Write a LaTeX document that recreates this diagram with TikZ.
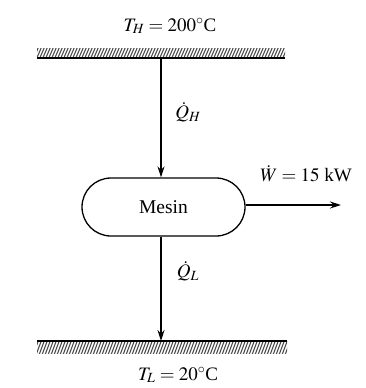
\documentclass[tikz,border=0pt]{standalone}
\usepackage{mathptmx}
\usepackage{fontspec}
\setmainfont{Liberation Serif}
\usetikzlibrary{arrows.meta}
\tikzset{
  wire/.style={line width=1.3pt, -{Stealth[length=11pt,width=7pt]}},
  lbl/.style={font=\fontsize{19}{22}\selectfont, inner sep=0pt},
  hatch/.style={line width=1.1pt, black!70},
  engine/.style={draw, line width=1.3pt, rounded corners=29pt, minimum width=163pt, minimum height=58pt, font=\fontsize{19.5}{22}\selectfont},
}
\begin{document}
\begin{tikzpicture}[x=1pt,y=-1pt]
\useasboundingbox (0,0) rectangle (366,388);
% top reservoir
\begin{scope}
\clip (37,48) rectangle (285,58);
\foreach \i in {0,3,...,270} {\draw[hatch] (30+\i,60) -- (36+\i,46);}
\end{scope}
\draw[line width=1.3pt] (37,58) -- (285,58);
% bottom reservoir
\begin{scope}
\clip (37,341) rectangle (287,353);
\foreach \i in {0,3,...,270} {\draw[hatch] (30+\i,355) -- (36+\i,339);}
\end{scope}
\draw[line width=1.3pt] (37,341) -- (287,341);
\coordinate (hot) at (161,58);
\coordinate (cold) at (161,341);
\coordinate (wout) at (341,205);
\node[engine] (eng) at (163.5,207) {Mesin};
\draw[wire] (hot) -- (hot |- eng.north);
\draw[wire] (cold |- eng.south) -- (cold);
\draw[wire] (eng.east |- wout) -- (wout);
\node[lbl] (th) at (170,26) {$T_H = 200^\circ$C};
\node[lbl] (tl) at (178,375) {$T_L = 20^\circ$C};
\node[lbl] (qh) at (188,112) {$\dot{Q}_H$};
\node[lbl] (ql) at (188,271) {$\dot{Q}_L$};
\node[lbl] (w) at (306,174) {$\dot{W} = 15$ kW};
\end{tikzpicture}
\end{document}
